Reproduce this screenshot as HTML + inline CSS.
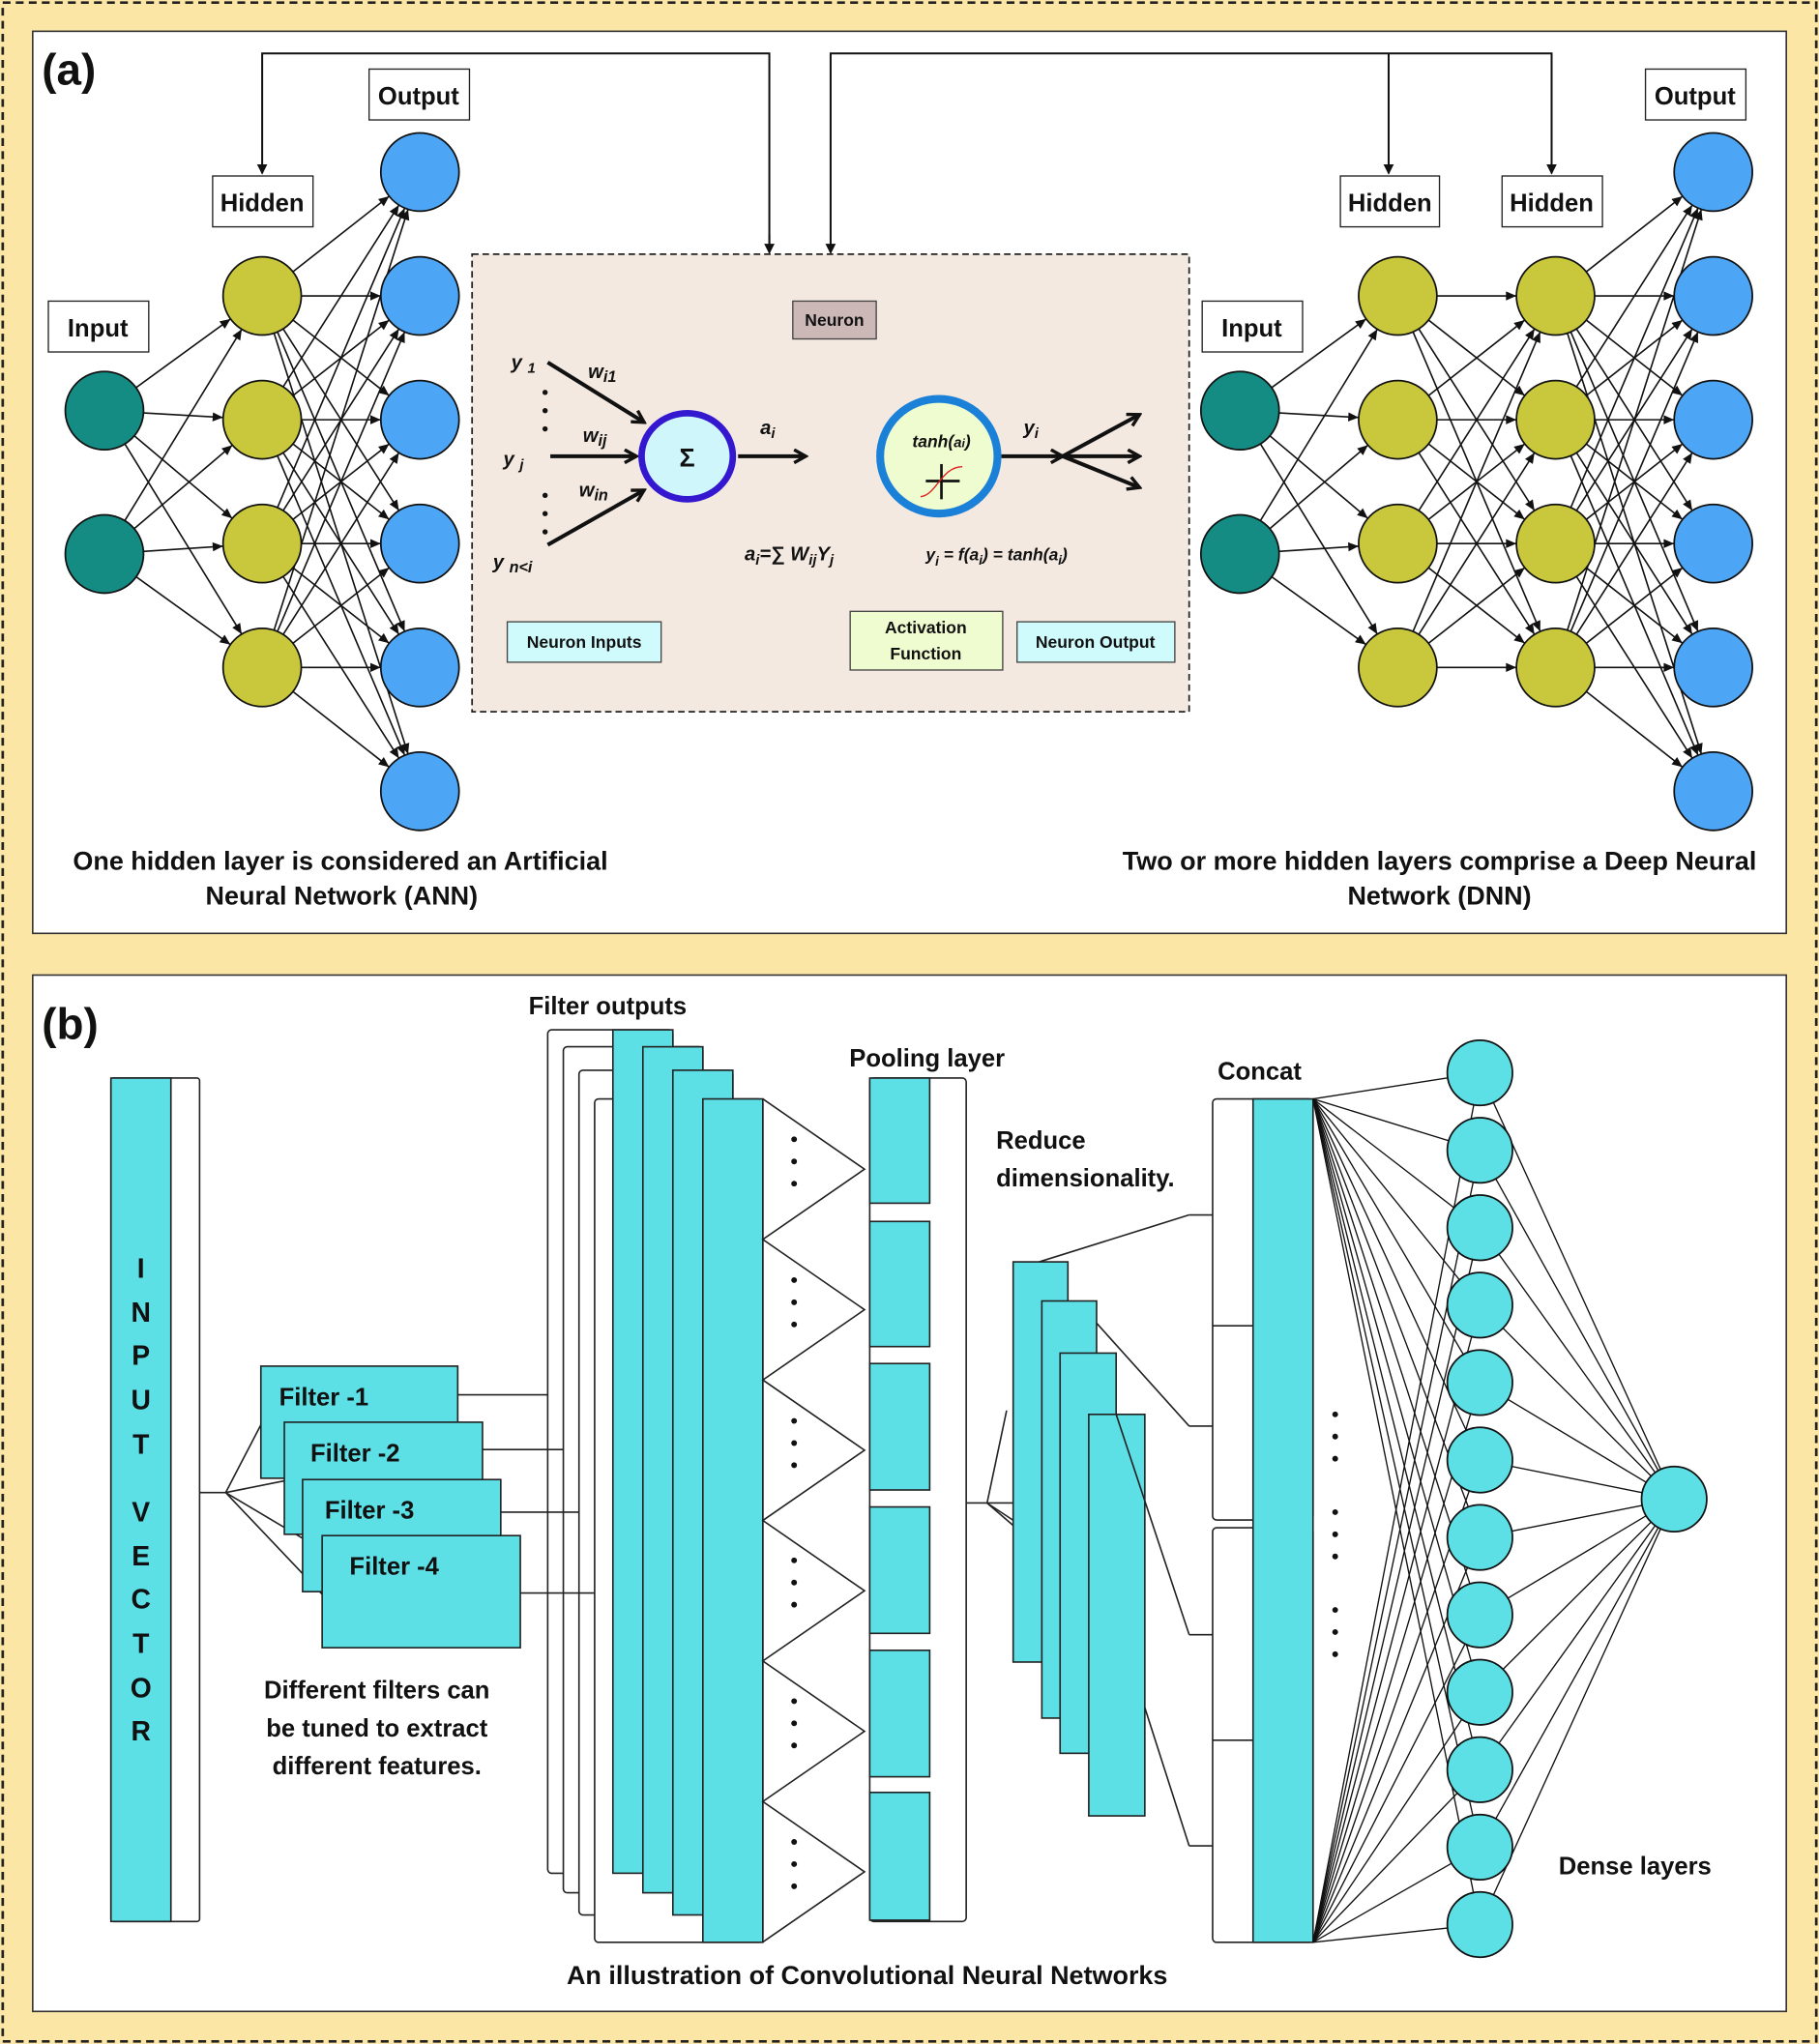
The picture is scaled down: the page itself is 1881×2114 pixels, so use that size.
<!DOCTYPE html>
<html><head><meta charset="utf-8"><style>
html,body{margin:0;padding:0;background:#fbe6a6}
svg{display:block}
text{font-family:"Liberation Sans",sans-serif;font-weight:bold;fill:#111}
</style></head><body>
<svg width="1881" height="2114" viewBox="0 0 1395 1568" xmlns="http://www.w3.org/2000/svg">
<defs>
<marker id="ar" markerWidth="8" markerHeight="8" refX="7" refY="4" orient="auto" markerUnits="userSpaceOnUse"><path d="M0,0 L8,4 L0,8 z" fill="#111"/></marker>
<marker id="an" markerWidth="60" markerHeight="10" refX="38" refY="4" orient="auto" markerUnits="userSpaceOnUse" overflow="visible"><path d="M0,0.5 L8,4 L0,7.5 z" fill="#111"/></marker>
<marker id="ab" markerWidth="12" markerHeight="12" refX="10" refY="6" orient="auto" markerUnits="userSpaceOnUse"><path d="M1,1 L10,6 L1,11" fill="none" stroke="#111" stroke-width="2.5"/></marker>
</defs>
<rect x="0" y="0" width="1395" height="1568" fill="#fbe6a6"/>
<rect x="2" y="2" width="1391" height="1564" fill="none" stroke="#222" stroke-width="2" stroke-dasharray="6,4"/>
<rect x="25" y="24" width="1345" height="692" fill="#fff" stroke="#333" stroke-width="1.2"/>
<rect x="25" y="748" width="1345" height="795" fill="#fff" stroke="#333" stroke-width="1.2"/>

<!-- ANN connections -->
<g stroke="#111" stroke-width="1.2" marker-end="url(#an)">
<line x1="80" y1="315" x2="201" y2="227"/><line x1="80" y1="315" x2="201" y2="322"/><line x1="80" y1="315" x2="201" y2="417"/><line x1="80" y1="315" x2="201" y2="512"/>
<line x1="80" y1="425" x2="201" y2="227"/><line x1="80" y1="425" x2="201" y2="322"/><line x1="80" y1="425" x2="201" y2="417"/><line x1="80" y1="425" x2="201" y2="512"/>
<line x1="201" y1="227" x2="322" y2="132"/><line x1="201" y1="227" x2="322" y2="227"/><line x1="201" y1="227" x2="322" y2="322"/><line x1="201" y1="227" x2="322" y2="417"/><line x1="201" y1="227" x2="322" y2="512"/><line x1="201" y1="227" x2="322" y2="607"/>
<line x1="201" y1="322" x2="322" y2="132"/><line x1="201" y1="322" x2="322" y2="227"/><line x1="201" y1="322" x2="322" y2="322"/><line x1="201" y1="322" x2="322" y2="417"/><line x1="201" y1="322" x2="322" y2="512"/><line x1="201" y1="322" x2="322" y2="607"/>
<line x1="201" y1="417" x2="322" y2="132"/><line x1="201" y1="417" x2="322" y2="227"/><line x1="201" y1="417" x2="322" y2="322"/><line x1="201" y1="417" x2="322" y2="417"/><line x1="201" y1="417" x2="322" y2="512"/><line x1="201" y1="417" x2="322" y2="607"/>
<line x1="201" y1="512" x2="322" y2="132"/><line x1="201" y1="512" x2="322" y2="227"/><line x1="201" y1="512" x2="322" y2="322"/><line x1="201" y1="512" x2="322" y2="417"/><line x1="201" y1="512" x2="322" y2="512"/><line x1="201" y1="512" x2="322" y2="607"/>
</g>
<!-- DNN connections -->
<g stroke="#111" stroke-width="1.2" marker-end="url(#an)">
<line x1="951" y1="315" x2="1072" y2="227"/><line x1="951" y1="315" x2="1072" y2="322"/><line x1="951" y1="315" x2="1072" y2="417"/><line x1="951" y1="315" x2="1072" y2="512"/>
<line x1="951" y1="425" x2="1072" y2="227"/><line x1="951" y1="425" x2="1072" y2="322"/><line x1="951" y1="425" x2="1072" y2="417"/><line x1="951" y1="425" x2="1072" y2="512"/>
<line x1="1072" y1="227" x2="1193" y2="227"/><line x1="1072" y1="227" x2="1193" y2="322"/><line x1="1072" y1="227" x2="1193" y2="417"/><line x1="1072" y1="227" x2="1193" y2="512"/>
<line x1="1072" y1="322" x2="1193" y2="227"/><line x1="1072" y1="322" x2="1193" y2="322"/><line x1="1072" y1="322" x2="1193" y2="417"/><line x1="1072" y1="322" x2="1193" y2="512"/>
<line x1="1072" y1="417" x2="1193" y2="227"/><line x1="1072" y1="417" x2="1193" y2="322"/><line x1="1072" y1="417" x2="1193" y2="417"/><line x1="1072" y1="417" x2="1193" y2="512"/>
<line x1="1072" y1="512" x2="1193" y2="227"/><line x1="1072" y1="512" x2="1193" y2="322"/><line x1="1072" y1="512" x2="1193" y2="417"/><line x1="1072" y1="512" x2="1193" y2="512"/>
<line x1="1193" y1="227" x2="1314" y2="132"/><line x1="1193" y1="227" x2="1314" y2="227"/><line x1="1193" y1="227" x2="1314" y2="322"/><line x1="1193" y1="227" x2="1314" y2="417"/><line x1="1193" y1="227" x2="1314" y2="512"/><line x1="1193" y1="227" x2="1314" y2="607"/>
<line x1="1193" y1="322" x2="1314" y2="132"/><line x1="1193" y1="322" x2="1314" y2="227"/><line x1="1193" y1="322" x2="1314" y2="322"/><line x1="1193" y1="322" x2="1314" y2="417"/><line x1="1193" y1="322" x2="1314" y2="512"/><line x1="1193" y1="322" x2="1314" y2="607"/>
<line x1="1193" y1="417" x2="1314" y2="132"/><line x1="1193" y1="417" x2="1314" y2="227"/><line x1="1193" y1="417" x2="1314" y2="322"/><line x1="1193" y1="417" x2="1314" y2="417"/><line x1="1193" y1="417" x2="1314" y2="512"/><line x1="1193" y1="417" x2="1314" y2="607"/>
<line x1="1193" y1="512" x2="1314" y2="132"/><line x1="1193" y1="512" x2="1314" y2="227"/><line x1="1193" y1="512" x2="1314" y2="322"/><line x1="1193" y1="512" x2="1314" y2="417"/><line x1="1193" y1="512" x2="1314" y2="512"/><line x1="1193" y1="512" x2="1314" y2="607"/>
</g>
<!-- nodes -->
<g stroke="#111" stroke-width="1.3">
<g fill="#148c84"><circle cx="80" cy="315" r="30"/><circle cx="80" cy="425" r="30"/><circle cx="951" cy="315" r="30"/><circle cx="951" cy="425" r="30"/></g>
<g fill="#c9c83c">
<circle cx="201" cy="227" r="30"/><circle cx="201" cy="322" r="30"/><circle cx="201" cy="417" r="30"/><circle cx="201" cy="512" r="30"/>
<circle cx="1072" cy="227" r="30"/><circle cx="1072" cy="322" r="30"/><circle cx="1072" cy="417" r="30"/><circle cx="1072" cy="512" r="30"/>
<circle cx="1193" cy="227" r="30"/><circle cx="1193" cy="322" r="30"/><circle cx="1193" cy="417" r="30"/><circle cx="1193" cy="512" r="30"/>
</g>
<g fill="#4da6f5">
<circle cx="322" cy="132" r="30"/><circle cx="322" cy="227" r="30"/><circle cx="322" cy="322" r="30"/><circle cx="322" cy="417" r="30"/><circle cx="322" cy="512" r="30"/><circle cx="322" cy="607" r="30"/>
<circle cx="1314" cy="132" r="30"/><circle cx="1314" cy="227" r="30"/><circle cx="1314" cy="322" r="30"/><circle cx="1314" cy="417" r="30"/><circle cx="1314" cy="512" r="30"/><circle cx="1314" cy="607" r="30"/>
</g>
</g>

<!-- top connectors -->
<g stroke="#111" stroke-width="1.5" fill="none">
<polyline points="590,193 590,41 201,41 201,133" marker-end="url(#ar)"/>
<polyline points="637,193 637,41 1190,41 1190,133" marker-end="url(#ar)"/>
<line x1="1065" y1="41" x2="1065" y2="133" marker-end="url(#ar)"/>
<line x1="590" y1="180" x2="590" y2="194" marker-end="url(#ar)"/>
<line x1="637" y1="190" x2="637" y2="194" marker-end="url(#ar)"/>
</g>

<!-- neuron box -->
<rect x="362" y="195" width="550" height="351" fill="#f4e9e1" stroke="#222" stroke-width="1.3" stroke-dasharray="5,3"/>
<g stroke="#111" stroke-width="3" fill="none">
<line x1="420" y1="278" x2="494" y2="324" marker-end="url(#ab)"/>
<line x1="422" y1="350" x2="488" y2="350" marker-end="url(#ab)"/>
<line x1="420" y1="418" x2="494" y2="376" marker-end="url(#ab)"/>
<line x1="566" y1="350" x2="618" y2="350" marker-end="url(#ab)"/>
<line x1="768" y1="350" x2="815" y2="350" marker-end="url(#ab)"/>
<line x1="815" y1="350" x2="874" y2="318" marker-end="url(#ab)"/>
<line x1="815" y1="350" x2="874" y2="350" marker-end="url(#ab)"/>
<line x1="815" y1="350" x2="874" y2="374" marker-end="url(#ab)"/>
</g>
<g fill="#111"><circle cx="418" cy="301" r="2"/><circle cx="418" cy="315" r="2"/><circle cx="418" cy="329" r="2"/><circle cx="418" cy="380" r="2"/><circle cx="418" cy="394" r="2"/><circle cx="418" cy="408" r="2"/></g>
<ellipse cx="527" cy="350" rx="35" ry="33" fill="#cff7fb" stroke="#3318d0" stroke-width="5"/>
<text x="527" y="358" font-size="20" text-anchor="middle">Σ</text>
<ellipse cx="720" cy="350" rx="45" ry="44" fill="#eefccf" stroke="#1a80d8" stroke-width="6"/>
<text x="722" y="343" font-size="13" text-anchor="middle" font-style="italic">tanh(<tspan font-size="11">a</tspan><tspan font-size="9">i</tspan>)</text>
<line x1="710" y1="369" x2="736" y2="369" stroke="#111" stroke-width="2"/><line x1="722" y1="356" x2="722" y2="383" stroke="#111" stroke-width="2"/>
<path d="M706,381 C718,380 722,358 738,358" stroke="#d22" stroke-width="1" fill="none"/>
<g font-style="italic" font-size="15">
<text x="392" y="283">y <tspan font-size="11" dy="3">1</tspan></text>
<text x="451" y="290">w<tspan font-size="12" dy="3">i1</tspan></text>
<text x="447" y="339">w<tspan font-size="12" dy="3">ij</tspan></text>
<text x="386" y="357">y <tspan font-size="11" dy="3">j</tspan></text>
<text x="444" y="381">w<tspan font-size="12" dy="3">in</tspan></text>
<text x="378" y="436">y <tspan font-size="12" dy="3">n&lt;i</tspan></text>
<text x="583" y="333">a<tspan font-size="11" dy="3">i</tspan></text>
<text x="785" y="333">y<tspan font-size="11" dy="3">i</tspan></text>
<text x="571" y="430">a<tspan font-size="11" dy="3">i</tspan><tspan dy="-3">=∑ W</tspan><tspan font-size="11" dy="3">ij</tspan><tspan dy="-3">Y</tspan><tspan font-size="11" dy="3">j</tspan></text>
<text x="710" y="430" font-size="13">y<tspan font-size="10" dy="4">i</tspan><tspan dy="-4"> = f(a</tspan><tspan font-size="10" dy="3">i</tspan><tspan dy="-3">)  = tanh(a</tspan><tspan font-size="10" dy="3">i</tspan><tspan dy="-3">)</tspan></text>
</g>
<g font-size="13">
<rect x="608" y="231" width="64" height="29" fill="#cdb8b8" stroke="#444"/><text x="640" y="250" text-anchor="middle">Neuron</text>
<rect x="389" y="477" width="118" height="31" fill="#d0fbfd" stroke="#444"/><text x="448" y="497" text-anchor="middle">Neuron Inputs</text>
<rect x="652" y="469" width="117" height="45" fill="#eefccf" stroke="#444"/><text x="710" y="486" text-anchor="middle">Activation</text><text x="710" y="506" text-anchor="middle">Function</text>
<rect x="780" y="477" width="121" height="31" fill="#d0fbfd" stroke="#444"/><text x="840" y="497" text-anchor="middle">Neuron Output</text>
</g>
<g font-size="19">
<rect x="37" y="231" width="77" height="39" fill="#fff" stroke="#222"/><text x="75" y="258" text-anchor="middle">Input</text>
<rect x="163" y="135" width="77" height="39" fill="#fff" stroke="#222"/><text x="201" y="162" text-anchor="middle">Hidden</text>
<rect x="283" y="53" width="77" height="39" fill="#fff" stroke="#222"/><text x="321" y="80" text-anchor="middle">Output</text>
<rect x="922" y="231" width="77" height="39" fill="#fff" stroke="#222"/><text x="960" y="258" text-anchor="middle">Input</text>
<rect x="1028" y="135" width="76" height="39" fill="#fff" stroke="#222"/><text x="1066" y="162" text-anchor="middle">Hidden</text>
<rect x="1152" y="135" width="77" height="39" fill="#fff" stroke="#222"/><text x="1190" y="162" text-anchor="middle">Hidden</text>
<rect x="1262" y="53" width="77" height="39" fill="#fff" stroke="#222"/><text x="1300" y="80" text-anchor="middle">Output</text>
</g>
<g font-size="20" text-anchor="middle">
<text x="261" y="667">One hidden layer is considered an Artificial</text>
<text x="262" y="694">Neural Network (ANN)</text>
<text x="1104" y="667">Two or more hidden layers comprise a Deep Neural</text>
<text x="1104" y="694">Network (DNN)</text>
</g>
<text x="32" y="65" font-size="34">(a)</text>
<text x="32" y="797" font-size="34">(b)</text>

<!-- ===== part b ===== -->
<g stroke="#222" stroke-width="1.2">
<!-- input vector -->
<rect x="85" y="827" width="68" height="647" fill="#fff" rx="2"/>
<rect x="85" y="827" width="46" height="647" fill="#5ce0e6"/>
<!-- fan to filters -->
<line x1="153" y1="1145" x2="173" y2="1145"/>
<line x1="173" y1="1145" x2="200" y2="1093"/>
<line x1="173" y1="1145" x2="218" y2="1136"/>
<line x1="173" y1="1145" x2="232" y2="1180"/>
<line x1="173" y1="1145" x2="247" y2="1223"/>
<!-- filter output frames -->
<rect x="420" y="790" width="96" height="647" fill="#fff" rx="3"/>
<rect x="432" y="803" width="107" height="649" fill="#fff" rx="3"/>
<rect x="444" y="821" width="118" height="648" fill="#fff" rx="3"/>
<rect x="456" y="843" width="129" height="647" fill="#fff" rx="3"/>
<rect x="470" y="790" width="46" height="647" fill="#5ce0e6"/>
<rect x="493" y="803" width="46" height="649" fill="#5ce0e6"/>
<rect x="516" y="821" width="46" height="648" fill="#5ce0e6"/>
<rect x="539" y="843" width="46" height="647" fill="#5ce0e6"/>
<!-- filters -->
<rect x="200" y="1048" width="151" height="86" fill="#5ce0e6"/>
<line x1="351" y1="1070" x2="420" y2="1070"/>
<rect x="218" y="1091" width="152" height="86" fill="#5ce0e6"/>
<line x1="370" y1="1112" x2="432" y2="1112"/>
<rect x="232" y="1135" width="152" height="86" fill="#5ce0e6"/>
<line x1="384" y1="1160" x2="444" y2="1160"/>
<rect x="247" y="1178" width="152" height="86" fill="#5ce0e6"/>
<line x1="399" y1="1222" x2="456" y2="1222"/>
<!-- zigzag -->
<polyline fill="none" points="585,843 663,896.9 585,950.8 663,1004.7 585,1058.6 663,1112.5 585,1166.4 663,1220.3 585,1274.2 663,1328.1 585,1382 663,1435.9 585,1489.8"/>
<!-- pooling -->
<rect x="667" y="827" width="74" height="647" fill="#fff" rx="3"/>
<rect x="667" y="827" width="46" height="96" fill="#5ce0e6"/>
<rect x="667" y="937" width="46" height="96" fill="#5ce0e6"/>
<rect x="667" y="1046" width="46" height="97" fill="#5ce0e6"/>
<rect x="667" y="1156" width="46" height="97" fill="#5ce0e6"/>
<rect x="667" y="1266" width="46" height="97" fill="#5ce0e6"/>
<rect x="667" y="1375" width="46" height="98" fill="#5ce0e6"/>
<!-- stacks -->
<line x1="741" y1="1153" x2="757" y2="1153"/>
<line x1="757" y1="1153" x2="772" y2="1082"/>
<line x1="757" y1="1153" x2="799" y2="1153"/>
<line x1="757" y1="1153" x2="813" y2="1190"/>
<line x1="757" y1="1153" x2="835" y2="1220"/>
<rect x="777" y="968" width="42" height="307" fill="#5ce0e6"/>
<rect x="799" y="998" width="42" height="320" fill="#5ce0e6"/>
<rect x="813" y="1038" width="43" height="307" fill="#5ce0e6"/>
<rect x="835" y="1085" width="43" height="308" fill="#5ce0e6"/>
<line x1="797" y1="968" x2="912" y2="932"/><line x1="912" y1="932" x2="930" y2="932"/>
<line x1="841" y1="1015" x2="912" y2="1094"/><line x1="912" y1="1094" x2="930" y2="1094"/>
<line x1="856" y1="1085" x2="912" y2="1254"/><line x1="912" y1="1254" x2="930" y2="1254"/>
<line x1="878" y1="1310" x2="912" y2="1416"/><line x1="912" y1="1416" x2="930" y2="1416"/>
<!-- concat -->
<rect x="930" y="843" width="77" height="323" fill="#fff" rx="3"/>
<rect x="930" y="1172" width="77" height="318" fill="#fff" rx="3"/>
<line x1="930" y1="1017" x2="961" y2="1017"/><line x1="930" y1="1335" x2="961" y2="1335"/>
<rect x="961" y="843" width="46" height="647" fill="#5ce0e6"/>
</g>
<g fill="#111">
<circle cx="609" cy="874" r="2.2"/><circle cx="609" cy="891" r="2.2"/><circle cx="609" cy="908" r="2.2"/>
<circle cx="609" cy="982" r="2.2"/><circle cx="609" cy="999" r="2.2"/><circle cx="609" cy="1016" r="2.2"/>
<circle cx="609" cy="1090" r="2.2"/><circle cx="609" cy="1107" r="2.2"/><circle cx="609" cy="1124" r="2.2"/>
<circle cx="609" cy="1197" r="2.2"/><circle cx="609" cy="1214" r="2.2"/><circle cx="609" cy="1231" r="2.2"/>
<circle cx="609" cy="1305" r="2.2"/><circle cx="609" cy="1322" r="2.2"/><circle cx="609" cy="1339" r="2.2"/>
<circle cx="609" cy="1413" r="2.2"/><circle cx="609" cy="1430" r="2.2"/><circle cx="609" cy="1447" r="2.2"/>
<circle cx="1024" cy="1085" r="2.2"/><circle cx="1024" cy="1102" r="2.2"/><circle cx="1024" cy="1119" r="2.2"/>
<circle cx="1024" cy="1160" r="2.2"/><circle cx="1024" cy="1177" r="2.2"/><circle cx="1024" cy="1194" r="2.2"/>
<circle cx="1024" cy="1235" r="2.2"/><circle cx="1024" cy="1252" r="2.2"/><circle cx="1024" cy="1269" r="2.2"/>
</g>
<!-- dense connections -->
<g stroke="#111" stroke-width="1">
<line x1="1007" y1="843" x2="1135" y2="823"/><line x1="1007" y1="843" x2="1135" y2="882.4"/><line x1="1007" y1="843" x2="1135" y2="941.8"/><line x1="1007" y1="843" x2="1135" y2="1001.2"/><line x1="1007" y1="843" x2="1135" y2="1060.6"/><line x1="1007" y1="843" x2="1135" y2="1120"/><line x1="1007" y1="843" x2="1135" y2="1179.4"/><line x1="1007" y1="843" x2="1135" y2="1238.8"/><line x1="1007" y1="843" x2="1135" y2="1298.2"/><line x1="1007" y1="843" x2="1135" y2="1357.6"/><line x1="1007" y1="843" x2="1135" y2="1417"/><line x1="1007" y1="843" x2="1135" y2="1476.4"/>
<line x1="1007" y1="1490" x2="1135" y2="823"/><line x1="1007" y1="1490" x2="1135" y2="882.4"/><line x1="1007" y1="1490" x2="1135" y2="941.8"/><line x1="1007" y1="1490" x2="1135" y2="1001.2"/><line x1="1007" y1="1490" x2="1135" y2="1060.6"/><line x1="1007" y1="1490" x2="1135" y2="1120"/><line x1="1007" y1="1490" x2="1135" y2="1179.4"/><line x1="1007" y1="1490" x2="1135" y2="1238.8"/><line x1="1007" y1="1490" x2="1135" y2="1298.2"/><line x1="1007" y1="1490" x2="1135" y2="1357.6"/><line x1="1007" y1="1490" x2="1135" y2="1417"/><line x1="1007" y1="1490" x2="1135" y2="1476.4"/>
<line x1="1135" y1="823" x2="1284" y2="1150"/><line x1="1135" y1="882.4" x2="1284" y2="1150"/><line x1="1135" y1="941.8" x2="1284" y2="1150"/><line x1="1135" y1="1001.2" x2="1284" y2="1150"/><line x1="1135" y1="1060.6" x2="1284" y2="1150"/><line x1="1135" y1="1120" x2="1284" y2="1150"/><line x1="1135" y1="1179.4" x2="1284" y2="1150"/><line x1="1135" y1="1238.8" x2="1284" y2="1150"/><line x1="1135" y1="1298.2" x2="1284" y2="1150"/><line x1="1135" y1="1357.6" x2="1284" y2="1150"/><line x1="1135" y1="1417" x2="1284" y2="1150"/><line x1="1135" y1="1476.4" x2="1284" y2="1150"/>
</g>
<g fill="#5ce0e6" stroke="#111" stroke-width="1.3">
<circle cx="1135" cy="823" r="25"/><circle cx="1135" cy="882.4" r="25"/><circle cx="1135" cy="941.8" r="25"/><circle cx="1135" cy="1001.2" r="25"/><circle cx="1135" cy="1060.6" r="25"/><circle cx="1135" cy="1120" r="25"/><circle cx="1135" cy="1179.4" r="25"/><circle cx="1135" cy="1238.8" r="25"/><circle cx="1135" cy="1298.2" r="25"/><circle cx="1135" cy="1357.6" r="25"/><circle cx="1135" cy="1417" r="25"/><circle cx="1135" cy="1476.4" r="25"/>
<circle cx="1284" cy="1150" r="25"/>
</g>

<g font-size="21" text-anchor="middle">
<text x="108" y="980">I</text><text x="108" y="1014">N</text><text x="108" y="1047">P</text><text x="108" y="1081">U</text><text x="108" y="1115">T</text>
<text x="108" y="1167">V</text><text x="108" y="1201">E</text><text x="108" y="1234">C</text><text x="108" y="1268">T</text><text x="108" y="1302">O</text><text x="108" y="1335">R</text>
</g>
<g font-size="19">
<text x="214" y="1078">Filter -1</text>
<text x="238" y="1121">Filter -2</text>
<text x="249" y="1165">Filter -3</text>
<text x="268" y="1208">Filter -4</text>
<text x="466" y="778" text-anchor="middle">Filter outputs</text>
<text x="711" y="818" text-anchor="middle">Pooling layer</text>
<text x="764" y="881">Reduce</text>
<text x="764" y="910">dimensionality.</text>
<text x="966" y="828" text-anchor="middle">Concat</text>
<text x="1254" y="1438" text-anchor="middle">Dense layers</text>
<text x="289" y="1303" text-anchor="middle">Different filters can</text>
<text x="289" y="1332" text-anchor="middle">be tuned to extract</text>
<text x="289" y="1361" text-anchor="middle">different features.</text>
<text x="665" y="1522" text-anchor="middle" font-size="20">An illustration of Convolutional Neural Networks</text>
</g>
</svg>
</body></html>
